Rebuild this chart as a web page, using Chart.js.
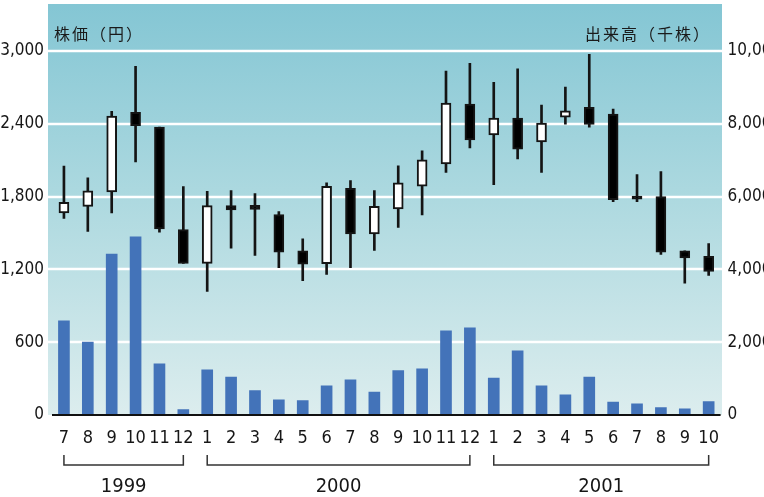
<!DOCTYPE html>
<html>
<head>
<meta charset="utf-8">
<script src="https://cdn.jsdelivr.net/npm/chart.js@4.4.1/dist/chart.umd.min.js"></script>
<style>
  html, body { margin: 0; padding: 0; background: #ffffff; }
  canvas { display: block; }
</style>
</head>
<body>
<canvas id="chart" width="764" height="497"></canvas>
<script>
// Monthly share price (yen) and trading volume (thousand shares), Jul 1999 – Oct 2001
const monthLabels = ['7','8','9','10','11','12',
  '1','2','3','4','5','6','7','8','9','10','11','12',
  '1','2','3','4','5','6','7','8','9','10'];

const openPrices  = [1665, 1720, 1839, 2494, 2373, 1528,
  1250, 1725, 1728, 1652, 1354, 1247, 1869, 1492, 1698, 1885, 2070, 2562,
  2309, 2447, 2251, 2455, 2535, 2480, 1805, 1800, 1354, 1307];
const highPrices  = [2051, 1954, 2502, 2873, 2373, 1883,
  1844, 1850, 1825, 1676, 1451, 1913, 1932, 1850, 2053, 2177, 2835, 2898,
  2741, 2854, 2554, 2703, 2972, 2521, 1982, 2007, 1354, 1412];
const lowPrices   = [1621, 1514, 1665, 2086, 1506, 1250,
  1019, 1376, 1316, 1214, 1107, 1159, 1214, 1357, 1547, 1649, 2000, 2202,
  1899, 2111, 2000, 2397, 2373, 1759, 1759, 1324, 1087, 1151];
const closePrices = [1753, 1847, 2463, 2384, 1533, 1250,
  1726, 1690, 1695, 1341, 1244, 1885, 1492, 1720, 1913, 2103, 2571, 2268,
  2447, 2191, 2406, 2507, 2395, 1775, 1778, 1341, 1294, 1184];

const volumes = [2584, 2000, 4422, 4896, 1404, 151,
  1240, 1040, 672, 417, 398, 801, 966, 628, 1221, 1267, 2310, 2392,
  1012, 1761, 801, 554, 1040, 354, 307, 206, 170, 370];

const priceTicks  = [0, 600, 1200, 1800, 2400, 3000];
const volumeTicks = [0, 2000, 4000, 6000, 8000, 10000];

const yearLabels = ['1999', '2000', '2001'];
const yearFirstIndex = [0, 6, 18];
const yearLastIndex  = [5, 17, 27];

const priceTitle  = '株価（円）';
const volumeTitle = '出来高（千株）';

const numFont = "'Liberation Sans Narrow', 'DejaVu Sans Condensed', 'Arial Narrow', sans-serif";
const cjkFont = "'Noto Sans CJK JP', 'Noto Sans CJK SC', sans-serif";
const inkColor = '#161616';

const fmt = v => Number(v).toLocaleString('en-US');

const decorPlugin = {
  id: 'decor',
  beforeDraw(chart) {
    const { ctx, chartArea } = chart;
    const top = 4, left = 48, right = 722;
    const g = ctx.createLinearGradient(0, top, 0, chartArea.bottom);
    g.addColorStop(0, '#84c6d4');
    g.addColorStop(0.45, '#abd8df');
    g.addColorStop(1, '#dcedee');
    ctx.save();
    ctx.fillStyle = g;
    ctx.fillRect(left, top, right - left, chartArea.bottom - top);
    ctx.restore();
  },
  beforeDatasetsDraw(chart) {
    const { ctx } = chart;
    const y = chart.scales.y;
    ctx.save();
    ctx.strokeStyle = '#ffffff';
    ctx.lineWidth = 2.5;
    priceTicks.forEach(v => {
      if (v === 0) return;
      const py = Math.round(y.getPixelForValue(v));
      ctx.beginPath();
      ctx.moveTo(48, py);
      ctx.lineTo(722, py);
      ctx.stroke();
    });
    ctx.restore();
  },
  afterDatasetsDraw(chart) {
    const { ctx, chartArea } = chart;
    const x = chart.scales.x;
    const y = chart.scales.y;
    ctx.save();
    // baseline
    const by = y.getPixelForValue(0);
    ctx.strokeStyle = '#111111';
    ctx.lineWidth = 2;
    ctx.beginPath();
    ctx.moveTo(chartArea.left, by);
    ctx.lineTo(chartArea.right, by);
    ctx.stroke();

    // axis titles inside the plot background
    ctx.fillStyle = '#1a1a1a';
    ctx.font = '16px ' + cjkFont;
    ctx.textBaseline = 'middle';
    if ('letterSpacing' in ctx) ctx.letterSpacing = '2px';
    ctx.textAlign = 'left';
    ctx.fillText(priceTitle, 54, 34);
    ctx.textAlign = 'right';
    ctx.fillText(volumeTitle, 711, 34);
    if ('letterSpacing' in ctx) ctx.letterSpacing = '0px';

    // year brackets under the month labels
    ctx.strokeStyle = '#333333';
    ctx.lineWidth = 1.5;
    ctx.fillStyle = inkColor;
    ctx.font = '20px ' + numFont;
    ctx.textAlign = 'center';
    yearLabels.forEach((label, i) => {
      const x0 = x.getPixelForValue(yearFirstIndex[i]);
      const x1 = x.getPixelForValue(yearLastIndex[i]);
      ctx.beginPath();
      ctx.moveTo(x0, 455);
      ctx.lineTo(x0, 465);
      ctx.lineTo(x1, 465);
      ctx.lineTo(x1, 455);
      ctx.stroke();
      ctx.fillText(label, (x0 + x1) / 2, 487);
    });
    ctx.restore();
  }
};

const bodyColors = openPrices.map((o, i) => closePrices[i] >= o ? '#ffffff' : '#000000');

new Chart(document.getElementById('chart'), {
  type: 'bar',
  data: {
    labels: monthLabels,
    datasets: [
      {
        label: 'body',
        data: openPrices.map((o, i) => [o, closePrices[i]]),
        yAxisID: 'y',
        backgroundColor: bodyColors,
        borderColor: '#141414',
        borderWidth: 2,
        borderSkipped: false,
        barThickness: 10,
        grouped: false,
        order: 0
      },
      {
        label: 'wick',
        data: lowPrices.map((l, i) => [l, highPrices[i]]),
        yAxisID: 'y',
        backgroundColor: '#141414',
        borderWidth: 0,
        barThickness: 2,
        grouped: false,
        order: 1
      },
      {
        label: 'volume',
        data: volumes,
        yAxisID: 'y1',
        backgroundColor: '#4373b9',
        borderWidth: 0,
        barThickness: 11,
        grouped: false,
        order: 2
      }
    ]
  },
  options: {
    responsive: false,
    animation: false,
    events: [],
    layout: { padding: { top: 51, left: 0, right: 0, bottom: 0 } },
    plugins: { legend: { display: false }, tooltip: { enabled: false } },
    scales: {
      x: {
        offset: true,
        grid: { display: false, drawTicks: false },
        border: { display: false },
        ticks: {
          autoSkip: false, maxRotation: 0, padding: 13,
          color: inkColor, font: { family: numFont, size: 18 }
        },
        afterFit(s) { s.height = 82; }
      },
      y: {
        position: 'left',
        min: 0, max: 3000,
        afterBuildTicks(s) { s.ticks = priceTicks.map(v => ({ value: v })); },
        grid: { display: false, drawTicks: false },
        border: { display: false },
        ticks: {
          padding: 8, color: inkColor,
          font: { family: numFont, size: 17 },
          callback: v => fmt(v)
        },
        afterFit(s) { s.width = 52; }
      },
      y1: {
        position: 'right',
        min: 0, max: 10000,
        afterBuildTicks(s) { s.ticks = volumeTicks.map(v => ({ value: v })); },
        grid: { display: false, drawTicks: false },
        border: { display: false },
        ticks: {
          padding: 7, color: inkColor,
          font: { family: numFont, size: 17 },
          callback: v => fmt(v)
        },
        afterFit(s) { s.width = 43.4; }
      }
    }
  },
  plugins: [decorPlugin]
});
</script>
</body>
</html>
